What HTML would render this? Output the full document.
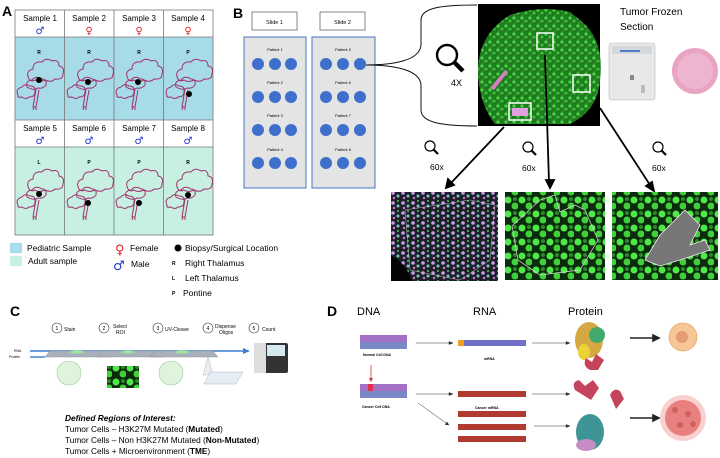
<!DOCTYPE html>
<html><head><meta charset="utf-8"><style>
body{margin:0;background:#fff}
svg{display:block;font-family:"Liberation Sans",sans-serif}
</style></head><body>
<svg width="720" height="458" viewBox="0 0 720 458" xmlns="http://www.w3.org/2000/svg">
<defs>
<g id="brain" fill="none" stroke="#a0306a" stroke-width="1">
<path d="M14,42 q-4,-8 4,-10 q0,-8 9,-7 q4,-5 10,-1 q7,-2 7,5 q6,1 4,8 q0,6 -8,5 q-4,4 -10,1 q-6,3 -10,0 q-4,2 -6,-1z"/>
<path d="M12,50 q-2,-6 5,-7 q4,-5 10,-1 q5,0 4,6 q-3,4 -8,3 q-4,3 -11,-1z"/>
<path d="M3,58 q-3,-6 4,-8 q3,-4 8,-1 q6,0 5,6 q0,5 -6,5 q-3,3 -7,0 q-5,1 -4,-2z"/>
<path d="M21,52 l-3,18 l3,0 l3,-17 M19,70 l-1,3 M21,70 l0,3"/>
</g>
<g id="mag" fill="none" stroke="#000"><circle cx="0" cy="0" r="5" stroke-width="1.2"/><path d="M3.5,3.5 L8,8" stroke-width="2.2"/></g>
<pattern id="spk" width="8" height="8" patternUnits="userSpaceOnUse"><rect width="8" height="8" fill="#1f7a1f"/><circle cx="2" cy="2" r="1.6" fill="#49d843"/><circle cx="6" cy="5" r="1.5" fill="#3ec23a"/><circle cx="3" cy="7" r="1" fill="#2a9a28"/></pattern>
<pattern id="blob" width="14" height="14" patternUnits="userSpaceOnUse"><rect width="14" height="14" fill="#0c2a0c"/><circle cx="4" cy="4" r="3.5" fill="#4ee848"/><circle cx="11" cy="10" r="3.5" fill="#3fd03a"/><circle cx="11" cy="3" r="2" fill="#2a8a28"/></pattern>
<pattern id="mix" width="10" height="10" patternUnits="userSpaceOnUse"><rect width="10" height="10" fill="#1a2228"/><circle cx="3" cy="3" r="1.8" fill="#c8a0e8"/><circle cx="8" cy="6" r="1.5" fill="#7ac8c8"/><circle cx="4" cy="8" r="1.2" fill="#e070d0"/><circle cx="8" cy="1" r="1" fill="#60c060"/></pattern>
</defs>

<!-- Panel A -->
<text x="2" y="16" font-size="14" font-weight="bold">A</text>
<rect x="15" y="37" width="198" height="83" fill="#a8dbe8"/>
<rect x="15" y="147" width="198" height="88" fill="#c7f0e3"/>
<g stroke="#777" stroke-width="0.8" fill="none">
<rect x="15" y="10" width="198" height="225"/>
<line x1="15" y1="37" x2="213" y2="37"/><line x1="15" y1="120" x2="213" y2="120"/><line x1="15" y1="147" x2="213" y2="147"/>
<line x1="64.5" y1="10" x2="64.5" y2="235"/><line x1="114" y1="10" x2="114" y2="235"/><line x1="163.5" y1="10" x2="163.5" y2="235"/>
</g>
<g font-size="8" text-anchor="middle">
<text x="40" y="21">Sample 1</text><text x="89" y="21">Sample 2</text><text x="139" y="21">Sample 3</text><text x="188" y="21">Sample 4</text>
<text x="40" y="131">Sample 5</text><text x="89" y="131">Sample 6</text><text x="139" y="131">Sample 7</text><text x="188" y="131">Sample 8</text>
</g>
<g font-size="10" text-anchor="middle" font-family="DejaVu Sans">
<text x="40" y="34" fill="#2233cc">♂</text><text x="89" y="34" fill="#e02020">♀</text><text x="139" y="34" fill="#e02020">♀</text><text x="188" y="34" fill="#e02020">♀</text>
<text x="40" y="144" fill="#2233cc">♂</text><text x="89" y="144" fill="#2233cc">♂</text><text x="139" y="144" fill="#2233cc">♂</text><text x="188" y="144" fill="#2233cc">♂</text>
</g>
<g font-size="5" font-weight="bold" text-anchor="middle">
<text x="39" y="54">R</text><text x="89" y="54">R</text><text x="139" y="54">R</text><text x="188" y="54">P</text>
<text x="39" y="164">L</text><text x="89" y="164">P</text><text x="139" y="164">P</text><text x="188" y="164">R</text>
</g>
<use href="#brain" x="15" y="37"/><use href="#brain" x="65" y="37"/><use href="#brain" x="114" y="37"/><use href="#brain" x="164" y="37"/>
<use href="#brain" x="15" y="147"/><use href="#brain" x="65" y="147"/><use href="#brain" x="114" y="147"/><use href="#brain" x="164" y="147"/>
<g fill="#000">
<circle cx="39" cy="80" r="3"/><circle cx="88" cy="82" r="3"/><circle cx="138" cy="82" r="3"/><circle cx="189" cy="94" r="3"/>
<circle cx="39" cy="194" r="3"/><circle cx="88" cy="203" r="3"/><circle cx="139" cy="203" r="3"/><circle cx="188" cy="195" r="3"/>
</g>
<rect x="10" y="243" width="12" height="10" fill="#a8dbe8"/><text x="27" y="251" font-size="8.5">Pediatric Sample</text>
<rect x="10" y="256" width="12" height="10" fill="#c7f0e3"/><text x="28" y="264" font-size="8.5">Adult sample</text>
<text x="115" y="254" font-size="13" fill="#e02020" font-family="DejaVu Sans">♀</text><text x="130" y="251" font-size="8.5">Female</text>
<text x="113" y="270" font-size="13" fill="#2233cc" font-family="DejaVu Sans">♂</text><text x="131" y="267" font-size="8.5">Male</text>
<circle cx="178" cy="248" r="3.5" fill="#000"/><text x="185" y="251" font-size="8.5">Biopsy/Surgical Location</text>
<g font-size="5" font-weight="bold"><text x="172" y="265">R</text><text x="172" y="280">L</text><text x="172" y="295">P</text></g>
<g font-size="8.5"><text x="185" y="266">Right Thalamus</text><text x="185" y="281">Left Thalamus</text><text x="183" y="296">Pontine</text></g>

<!-- Panel B -->
<text x="233" y="18" font-size="14" font-weight="bold">B</text>
<rect x="252" y="12" width="45" height="18" fill="#fff" stroke="#666" stroke-width="0.8"/><text x="274.5" y="24" font-size="5.5" text-anchor="middle">Slide 1</text>
<rect x="320" y="12" width="45" height="18" fill="#fff" stroke="#666" stroke-width="0.8"/><text x="342.5" y="24" font-size="5.5" text-anchor="middle">Slide 2</text>
<rect x="244" y="37" width="62" height="151" fill="#e4e4e4" stroke="#4a74c0" stroke-width="1"/>
<rect x="312" y="37" width="63" height="151" fill="#e4e4e4" stroke="#4a74c0" stroke-width="1"/>
<g font-size="4" text-anchor="middle">
<text x="275" y="51">Patient 1</text><text x="275" y="84">Patient 2</text><text x="275" y="117">Patient 3</text><text x="275" y="151">Patient 4</text>
<text x="343" y="51">Patient 5</text><text x="343" y="84">Patient 6</text><text x="343" y="117">Patient 7</text><text x="343" y="151">Patient 8</text>
</g>
<g fill="#3f6fcc">
<circle cx="258" cy="64" r="6"/><circle cx="275" cy="64" r="6"/><circle cx="291" cy="64" r="6"/>
<circle cx="258" cy="97" r="6"/><circle cx="275" cy="97" r="6"/><circle cx="291" cy="97" r="6"/>
<circle cx="258" cy="130" r="6"/><circle cx="275" cy="130" r="6"/><circle cx="291" cy="130" r="6"/>
<circle cx="258" cy="163" r="6"/><circle cx="275" cy="163" r="6"/><circle cx="291" cy="163" r="6"/>
<circle cx="326" cy="64" r="6"/><circle cx="343" cy="64" r="6"/><circle cx="360" cy="64" r="6"/>
<circle cx="326" cy="97" r="6"/><circle cx="343" cy="97" r="6"/><circle cx="360" cy="97" r="6"/>
<circle cx="326" cy="130" r="6"/><circle cx="343" cy="130" r="6"/><circle cx="360" cy="130" r="6"/>
<circle cx="326" cy="163" r="6"/><circle cx="343" cy="163" r="6"/><circle cx="360" cy="163" r="6"/>
</g>
<path d="M366,65 C395,65 420,60 421,45 L421,20 C421,8 440,5 477,5 M366,65 C395,65 420,70 421,85 L421,110 C421,122 440,126 477,126" fill="none" stroke="#111" stroke-width="1"/>
<g transform="translate(447,55) scale(2)"><use href="#mag"/></g>
<text x="451" y="86" font-size="9">4X</text>
<rect x="478" y="4" width="122" height="122" fill="#000"/>
<path d="M480,90 Q470,40 510,15 Q540,5 570,12 L580,20 Q605,40 600,80 Q598,110 570,124 L495,124 Q484,110 480,90z" fill="url(#spk)"/>
<path d="M490,88 L505,70 L508,72 L494,90z" fill="#d080c0"/>
<rect x="512" y="108" width="16" height="8" fill="#e0a0e0"/>
<g fill="none" stroke="#fff" stroke-width="1.5">
<rect x="537" y="33" width="16" height="16"/><rect x="573" y="75" width="17" height="17"/><rect x="509" y="103" width="22" height="17"/>
</g>
<text x="620" y="15" font-size="10">Tumor Frozen</text><text x="620" y="30" font-size="10">Section</text>
<rect x="609" y="43" width="46" height="57" rx="3" fill="#e8e8e8" stroke="#bbb" stroke-width="0.6"/>
<rect x="612" y="46" width="40" height="8" fill="#d4d8dc"/><rect x="620" y="50" width="20" height="2" fill="#4a7fc0"/>
<rect x="630" y="75" width="4" height="5" fill="#888"/><rect x="641" y="85" width="4" height="8" fill="#bbb"/>
<circle cx="695" cy="71" r="23" fill="#e9a3c3"/>
<circle cx="695" cy="71" r="18" fill="#f2c1d8" opacity="0.6"/>
<g stroke="#000" stroke-width="1.8" fill="#000">
<line x1="504" y1="127" x2="451" y2="183"/><path d="M446,188 l2,-9 l6,6z"/>
<line x1="545" y1="55" x2="549" y2="182"/><path d="M550,188 l-4,-8 l8,0z"/>
<line x1="600" y1="108" x2="650" y2="185"/><path d="M654,191 l-8,-5 l6,-4z"/>
</g>
<g transform="translate(430,146)"><use href="#mag"/></g><text x="430" y="170" font-size="8.5">60x</text>
<g transform="translate(528,147)"><use href="#mag"/></g><text x="522" y="171" font-size="8.5">60x</text>
<g transform="translate(658,147)"><use href="#mag"/></g><text x="652" y="171" font-size="8.5">60x</text>
<rect x="391" y="192" width="107" height="89" fill="url(#mix)"/>
<path d="M391,255 Q405,262 412,281 L391,281z" fill="#050505"/>
<path d="M405,210 L470,200 L495,205 L490,260 L460,280 L410,270z" fill="none" stroke="#bbb" stroke-width="0.5"/>
<rect x="505" y="192" width="100" height="88" fill="url(#blob)"/>
<path d="M512,226 L540,200 L555,195 L560,212 L575,205 L585,210 L598,240 L580,270 L540,275 L518,260z" fill="none" stroke="#ddd" stroke-width="0.7"/>
<rect x="612" y="192" width="106" height="88" fill="url(#blob)"/>
<path d="M645,260 L660,235 L675,220 L685,210 L700,225 L690,245 L705,240 L710,250 L680,260 L660,266z" fill="#777" stroke="#eee" stroke-width="0.8"/>

<!-- Panel C -->
<text x="10" y="316" font-size="14" font-weight="bold">C</text>
<g font-size="5" fill="none" stroke="#333" stroke-width="0.6">
<circle cx="57" cy="328" r="5"/><circle cx="104" cy="328" r="5"/><circle cx="158" cy="328" r="5"/><circle cx="208" cy="328" r="5"/><circle cx="254" cy="328" r="5"/>
</g>
<g font-size="5">
<text x="55.5" y="330">1</text><text x="102.5" y="330">2</text><text x="156.5" y="330">3</text><text x="206.5" y="330">4</text><text x="252.5" y="330">5</text>
<text x="64" y="331">Stain</text><text x="113" y="328">Select</text><text x="116" y="334">ROI</text><text x="165" y="331">UV-Cleave</text>
<text x="215" y="328">Dispense</text><text x="219" y="334">Oligos</text><text x="262" y="331">Count</text>
</g>
<text x="14" y="352" font-size="3.5">RNA</text><text x="9" y="358" font-size="3.5">Protein</text>
<g stroke="#3a7fd0" stroke-width="1.4"><line x1="30" y1="351" x2="245" y2="351"/><line x1="30" y1="357" x2="45" y2="357"/></g>
<path d="M250,351 l-7,-3 l0,6z" fill="#3a7fd0"/>
<g fill="#a8b0bc" stroke="#888" stroke-width="0.4">
<path d="M50,351 L106,351 L110,357 L45,357z"/><path d="M102,351 L158,351 L163,357 L97,357z"/><path d="M155,351 L213,351 L218,357 L150,357z"/>
</g>
<g fill="#9ee89a"><ellipse cx="77" cy="352" rx="7" ry="1.5"/><ellipse cx="128" cy="352" rx="7" ry="1.5"/><ellipse cx="182" cy="352" rx="7" ry="1.5"/></g>
<circle cx="69" cy="373" r="12" fill="#e0f3dc" stroke="#9c9" stroke-width="0.6"/>
<circle cx="171" cy="373" r="12" fill="#e0f3dc" stroke="#9c9" stroke-width="0.6"/>
<rect x="107" y="366" width="32" height="22" fill="url(#blob)"/>
<path d="M208,357 L213,375 L203,375z" fill="#e8eef4" stroke="#aaa" stroke-width="0.4"/>
<path d="M210,372 L243,372 L236,384 L204,384z" fill="#e4ecf4" stroke="#aab" stroke-width="0.4"/>
<rect x="254" y="343" width="34" height="30" rx="2" fill="#333"/><rect x="267" y="345" width="18" height="11" fill="#d6e8f0"/><rect x="254" y="343" width="12" height="30" fill="#ddd"/>
<g font-size="8.3">
<text x="65" y="421" font-weight="bold" font-style="italic">Defined Regions of Interest:</text>
<text x="65" y="432">Tumor Cells –  H3K27M Mutated (<tspan font-weight="bold">Mutated</tspan>)</text>
<text x="65" y="443">Tumor Cells – Non H3K27M Mutated (<tspan font-weight="bold">Non-Mutated</tspan>)</text>
<text x="65" y="454">Tumor Cells + Microenvironment  (<tspan font-weight="bold">TME</tspan>)</text>
</g>

<!-- Panel D -->
<text x="327" y="316" font-size="14" font-weight="bold">D</text>
<text x="357" y="315" font-size="11">DNA</text><text x="473" y="315" font-size="11">RNA</text><text x="568" y="315" font-size="11">Protein</text>
<rect x="360" y="335" width="47" height="14" fill="#7a88c8"/><rect x="360" y="335" width="47" height="7" fill="#c060c0" opacity="0.6"/>
<text x="363" y="356" font-size="3.5" font-weight="bold">Normal Cell DNA</text>
<line x1="371" y1="365" x2="371" y2="379" stroke="#c33" stroke-width="0.8"/><path d="M371,382 l-2,-4 l4,0z" fill="#c33"/>
<rect x="360" y="384" width="47" height="14" fill="#7a88c8"/><rect x="360" y="384" width="47" height="7" fill="#c060c0" opacity="0.6"/><rect x="368" y="384" width="5" height="7" fill="#e03050"/>
<text x="362" y="408" font-size="3.5" font-weight="bold">Cancer Cell DNA</text>
<g stroke="#333" stroke-width="0.5" fill="#333">
<line x1="416" y1="343" x2="449" y2="343"/><path d="M453,343 l-4,-1.5 l0,3z"/>
<line x1="416" y1="394" x2="449" y2="394"/><path d="M453,394 l-4,-1.5 l0,3z"/>
<line x1="418" y1="403" x2="446" y2="423"/><path d="M449,425 l-4,-0.5 l2,-2.5z"/>
<line x1="532" y1="343" x2="566" y2="343"/><path d="M570,343 l-4,-1.5 l0,3z"/>
<line x1="532" y1="394" x2="566" y2="394"/><path d="M570,394 l-4,-1.5 l0,3z"/>
<line x1="534" y1="426" x2="566" y2="426"/><path d="M570,426 l-4,-1.5 l0,3z"/>
</g>
<rect x="458" y="340" width="68" height="6" fill="#7070c8"/><rect x="458" y="340" width="6" height="6" fill="#f0a020"/>
<text x="484" y="360" font-size="3.5" font-weight="bold">mRNA</text>
<rect x="458" y="391" width="68" height="6" fill="#b03a30"/>
<text x="475" y="409" font-size="3.5" font-weight="bold">Cancer mRNA</text>
<rect x="458" y="411" width="68" height="6" fill="#b03a30"/><rect x="458" y="424" width="68" height="6" fill="#b03a30"/><rect x="458" y="436" width="68" height="6" fill="#b03a30"/>
<g opacity="0.9">
<ellipse cx="589" cy="340" rx="14" ry="18" fill="#d0a030"/><ellipse cx="597" cy="335" rx="8" ry="8" fill="#30a060"/><ellipse cx="584" cy="352" rx="6" ry="8" fill="#e8d020"/>
<path d="M590,370 q-8,-4 -4,-12 l6,4 l4,-8 l8,6 l-6,10z M575,390 q-4,-8 4,-10 l6,6 l8,-6 l6,8 l-8,12z M610,395 q4,-8 10,-4 l4,8 l-8,10z" fill="#c0304a"/>
<ellipse cx="590" cy="432" rx="14" ry="18" fill="#2a8a8a"/><ellipse cx="586" cy="445" rx="10" ry="6" fill="#c080c0"/>
</g>
<g stroke="#222" stroke-width="1.6" fill="#222">
<line x1="630" y1="338" x2="654" y2="338"/><path d="M659,338 l-6,-3 l0,6z"/>
<line x1="630" y1="418" x2="654" y2="418"/><path d="M659,418 l-6,-3 l0,6z"/>
</g>
<circle cx="683" cy="337" r="14" fill="#f6c794" stroke="#e8a870" stroke-width="0.8"/><circle cx="682" cy="337" r="6" fill="#e69b78"/>
<circle cx="683" cy="418" r="23" fill="#f5b0b0" opacity="0.6"/>
<circle cx="683" cy="418" r="18" fill="#e88080"/>
<g fill="#d06060"><circle cx="675" cy="410" r="3"/><circle cx="688" cy="414" r="3"/><circle cx="680" cy="425" r="3"/><circle cx="693" cy="424" r="3"/></g>
</svg>
</body></html>
